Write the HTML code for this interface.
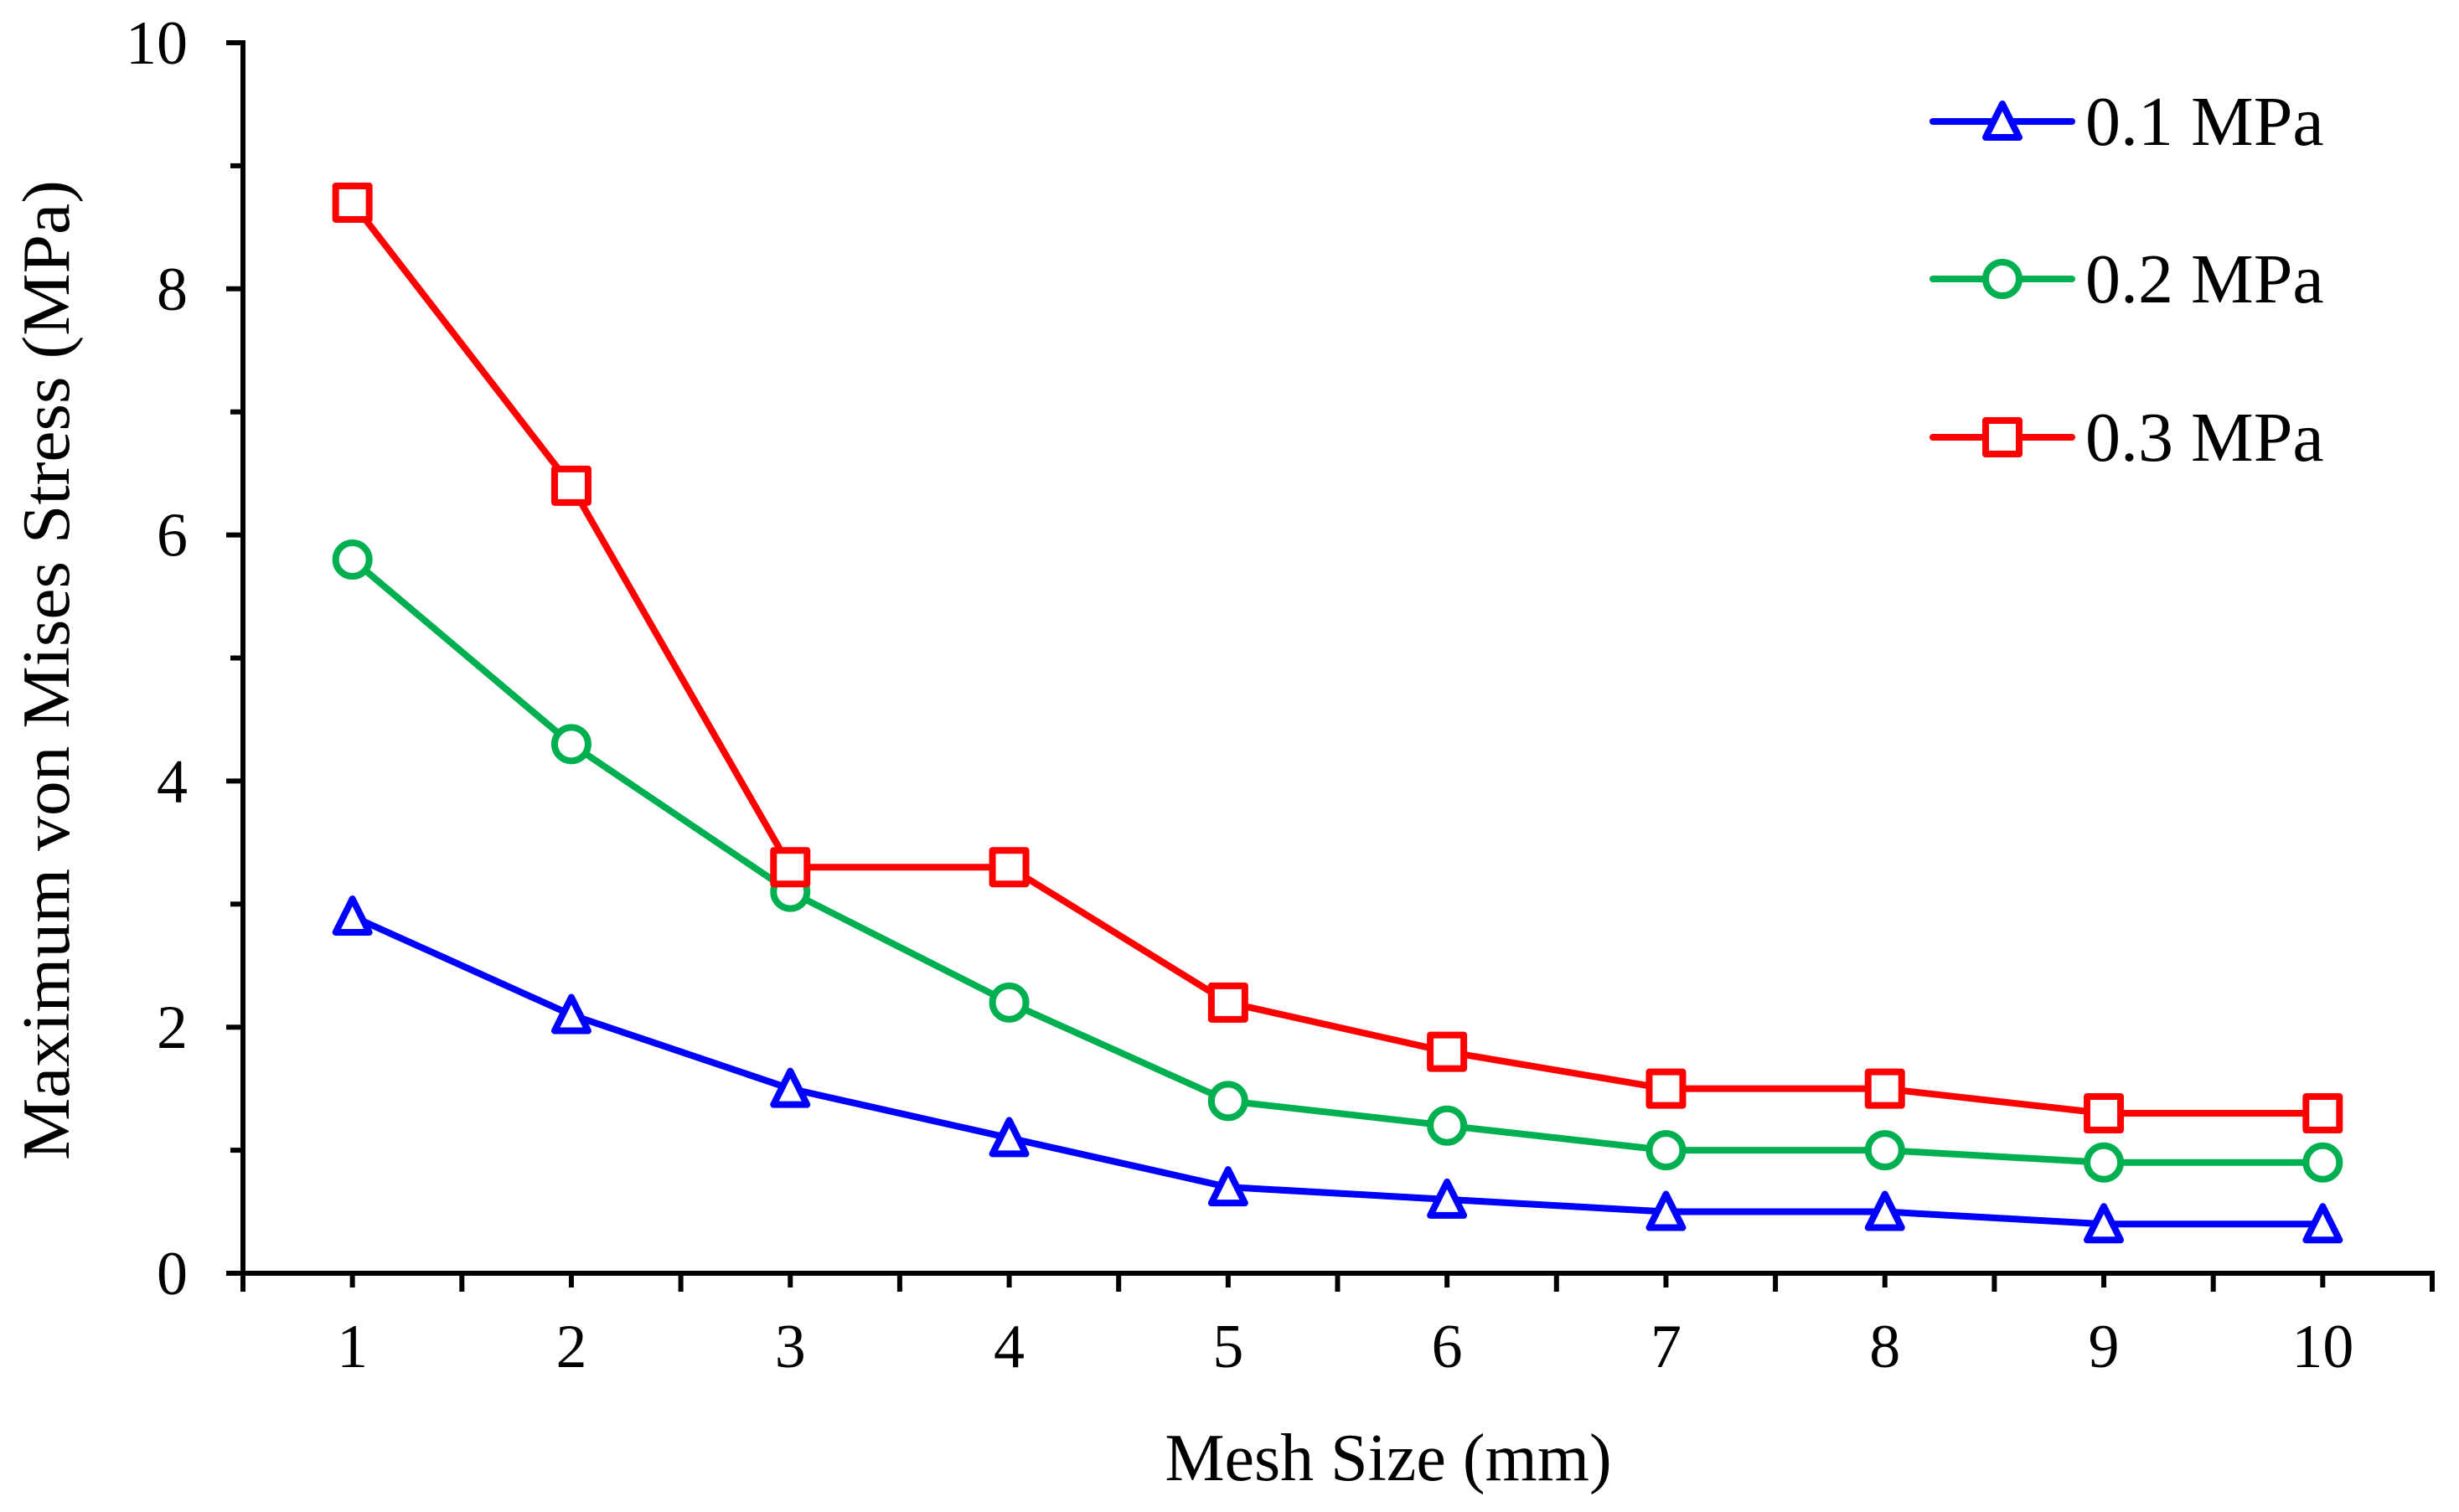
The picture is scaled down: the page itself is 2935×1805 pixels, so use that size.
<!DOCTYPE html>
<html><head><meta charset="utf-8"><style>
html,body{margin:0;padding:0;background:#fff;}
svg{display:block;font-family:"Liberation Serif","Times New Roman",serif;}
</style></head>
<body>
<svg id="chart" width="2935" height="1805" viewBox="0 0 2935 1805" xmlns="http://www.w3.org/2000/svg">
<g id="axes"></g>
<g id="series"></g>
<g id="legend"></g>
</svg>
<script>
const categories = [1,2,3,4,5,6,7,8,9,10];
const s01 = [2.9,2.1,1.5,1.1,0.7,0.6,0.5,0.5,0.4,0.4];
const s02 = [5.8,4.3,3.1,2.2,1.4,1.2,1.0,1.0,0.9,0.9];
const s03 = [8.7,6.4,3.3,3.3,2.2,1.8,1.5,1.5,1.3,1.3];
const yTicks = [0,2,4,6,8,10];
const seriesNames = ["0.1 MPa","0.2 MPa","0.3 MPa"];

const NS="http://www.w3.org/2000/svg";
const X0=290, X1=2903, Y0=1520, Y1=51;
const n=categories.length;
const step=(X1-X0)/n;
function xs(i){return X0+step*(i+0.5);}
function ys(v){return Y0-(v/10)*(Y0-Y1);}
function mk(tag,attrs,parent){const e=document.createElementNS(NS,tag);for(const k in attrs)e.setAttribute(k,attrs[k]);parent.appendChild(e);return e;}
const axes=document.getElementById('axes'), ser=document.getElementById('series'), leg=document.getElementById('legend');

let e=mk('line',{x1:X0,y1:Y1-3,x2:X0,y2:Y0+3,stroke:'#000','stroke-width':6},axes);


e=mk('line',{x1:X0-3,y1:Y0,x2:X1+3,y2:Y0,stroke:'#000','stroke-width':6},axes);


// y ticks
for(let v=0;v<=10;v++){
  const y=ys(v), len=(v%2===0)?20:15;
  e=mk('line',{x1:X0-len,y1:y,x2:X0,y2:y,stroke:'#000','stroke-width':6},axes);
  
  
}
yTicks.forEach(v=>{
  const t=mk('text',{x:224,y:ys(v)+25,'text-anchor':'end','font-size':74},axes);
  t.textContent=v;
  
  
});
// x ticks
for(let i=0;i<=n;i++){
  const x=X0+step*i;
  e=mk('line',{x1:x,y1:Y0,x2:x,y2:Y0+22,stroke:'#000','stroke-width':6},axes);
  
  
}
categories.forEach((c,i)=>{
  e=mk('line',{x1:xs(i),y1:Y0,x2:xs(i),y2:Y0+17,stroke:'#000','stroke-width':6},axes);
  
  
  const t=mk('text',{x:xs(i),y:1632,'text-anchor':'middle','font-size':74},axes);
  t.textContent=c;
  
  
});
let t=mk('text',{x:1657,y:1767,'text-anchor':'middle','font-size':80},axes);
t.textContent='Mesh Size (mm)';


t=mk('text',{x:0,y:0,'text-anchor':'middle','font-size':80,transform:'translate(82,800) rotate(-90)',textLength:1170,lengthAdjust:'spacingAndGlyphs'},axes);
t.textContent='Maximum von Mises Stress (MPa)';



function marker(type,x,y,color,parent){
  let m;
  if(type==='tri'){
    m=mk('polygon',{points:`${x},${y-21} ${x+20},${y+19} ${x-20},${y+19}`,fill:'#fff',stroke:color,'stroke-width':8,'stroke-linejoin':'round'},parent);
  }else if(type==='circ'){
    m=mk('circle',{cx:x,cy:y,r:20,fill:'#fff',stroke:color,'stroke-width':8},parent);
  }else{
    m=mk('rect',{x:x-20,y:y-20,width:40,height:40,fill:'#fff',stroke:color,'stroke-width':8,'stroke-linejoin':'round'},parent);
  }
  return m;
}
const defs=[[s01,'#0000ff','tri','series-0-1-mpa'],[s02,'#00b050','circ','series-0-2-mpa'],[s03,'#ff0000','sq','series-0-3-mpa']];
defs.forEach(([vals,color,type,name])=>{
  const g=mk('g',{},ser);
  
  
  const p=mk('polyline',{points:vals.map((v,i)=>xs(i)+','+ys(v)).join(' '),fill:'none',stroke:color,'stroke-width':8,'stroke-linejoin':'round'},g);
  
  
  vals.forEach((v,i)=>{
    const m=marker(type,xs(i),ys(v),color,g);
    
    
  });
});
// legend
const legY=[145,333,522];
defs.forEach(([vals,color,type,name],k)=>{
  const g=mk('g',{},leg);
  
  
  mk('line',{x1:2307,y1:legY[k],x2:2473,y2:legY[k],stroke:color,'stroke-width':8,'stroke-linecap':'round'},g);
  marker(type,2390,legY[k],color,g);
  const tx=mk('text',{x:2489,y:legY[k]+28,'font-size':84},g);
  tx.textContent=seriesNames[k];
  
  
});
</script>
</body></html>
